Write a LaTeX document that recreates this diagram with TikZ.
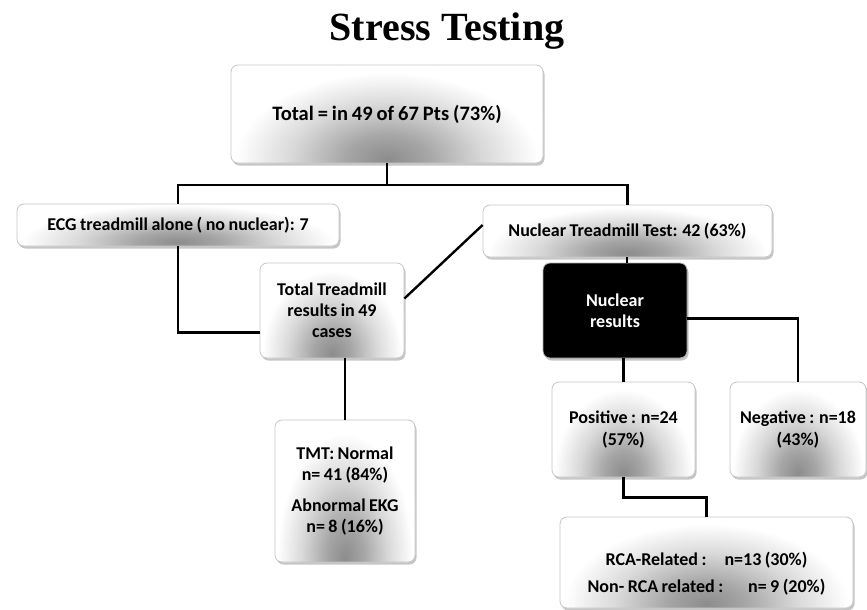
\documentclass[tikz,border=0pt]{standalone}
\usepackage{fontspec}
\setmainfont[WordSpace=0.85]{Carlito}
\newfontfamily\titlefont{Liberation Serif}
\usetikzlibrary{shadows,calc}
\pgfdeclareradialshading{glow}{\pgfpoint{0bp}{0bp}}{color(0bp)=(gray!90); color(6bp)=(gray!70); color(14bp)=(gray!30); color(22bp)=(white); color(50bp)=(white)}
\tikzset{
  box/.style={draw=gray!45, line width=0.8pt, rounded corners=7pt, fill=white,
    inner sep=0pt, align=center, font=\bfseries\fontsize{18}{21}\selectfont,
    drop shadow={opacity=0.45, shadow xshift=1.5pt, shadow yshift=-2.5pt},
    path picture={
      \path let \p1=(path picture bounding box.south west),
                \p2=(path picture bounding box.north east) in
        \pgfextra{\pgfmathsetmacro\rx{0.55*abs(\x2-\x1)}\pgfmathsetmacro\ry{1.0*abs(\y2-\y1)}}
        [shading=glow]
        ($(path picture bounding box.south)+(0,-4)$) ellipse [x radius=\rx pt, y radius=\ry pt];
    }},
  darkbox/.style={draw=gray!60, line width=0.8pt, rounded corners=7pt, fill=black,
    text=white, inner sep=0pt, align=center, font=\bfseries\fontsize{18}{21}\selectfont,
    drop shadow={opacity=0.45, shadow xshift=1.5pt, shadow yshift=-2.5pt}},
  link/.style={line width=2.4pt, black},
}
\begin{document}
\begin{tikzpicture}[x=1pt,y=-1pt]
\useasboundingbox (0,0) rectangle (867,610);
\node (title) at (447,31) {\titlefont\bfseries\fontsize{40}{46}\selectfont Stress Testing};

\node[box, minimum width=312pt, minimum height=98pt, font=\bfseries\fontsize{20.5}{24}\selectfont] (total) at (387,114) {Total = in 49 of 67 Pts (73\%)};
\node[box, minimum width=322pt, minimum height=42pt] (ecg) at (178,225) {ECG treadmill alone ( no nuclear): 7};
\node[box, minimum width=289pt, minimum height=52pt] (nuc) at (627.5,231) {Nuclear Treadmill Test: 42 (63\%)};
\node[box, minimum width=144pt, minimum height=95pt] (tt) at (332,310.5) {Total Treadmill\\results in 49\\cases};
\node[darkbox, minimum width=144pt, minimum height=95pt] (nr) at (615,310.5) {Nuclear\\results};
\node[box, minimum width=143pt, minimum height=95pt, font=\bfseries\fontsize{18}{22}\selectfont] (pos) at (623.5,429.5) {Positive : n=24\\(57\%)};
\node[box, minimum width=136pt, minimum height=95pt, font=\bfseries\fontsize{18}{22}\selectfont] (neg) at (798,429.5) {Negative : n=18\\(43\%)};
\node[box, minimum width=140pt, minimum height=142pt, font=\bfseries\fontsize{18}{21.5}\selectfont] (tmt) at (345,491) {TMT: Normal\\n= 41 (84\%)\\[9pt]Abnormal EKG\\n= 8 (16\%)};
\node[box, minimum width=293pt, minimum height=91pt, font=\bfseries\fontsize{18}{27}\selectfont] (rca) at (706.5,562.5) {\\[8pt]RCA-Related :\quad n=13 (30\%)\\Non- RCA related :\quad\ \ n= 9 (20\%)};

\coordinate (split) at (total.south |- 0,185);
\draw[link] (total.south) -- (split);
\draw[link] (split) -| (ecg.north);
\draw[link] (split) -| (nuc.north);
\draw[link] (ecg.south) |- ([yshift=-22pt]tt.west);
\draw[link] ([yshift=12pt]tt.east) -- ([yshift=6pt]nuc.west);
\draw[link] ([xshift=12pt]nr.north |- nuc.south) -- ([xshift=12pt]nr.north);
\draw[link] ([yshift=-8pt]nr.east) -| (neg.north);
\draw[link] (pos.north |- nr.south) -- (pos.north);
\draw[link] (pos.south) -- ++(0,20) -| (rca.north);
\draw[link] (tmt.north |- tt.south) -- (tmt.north);
\end{tikzpicture}
\end{document}
